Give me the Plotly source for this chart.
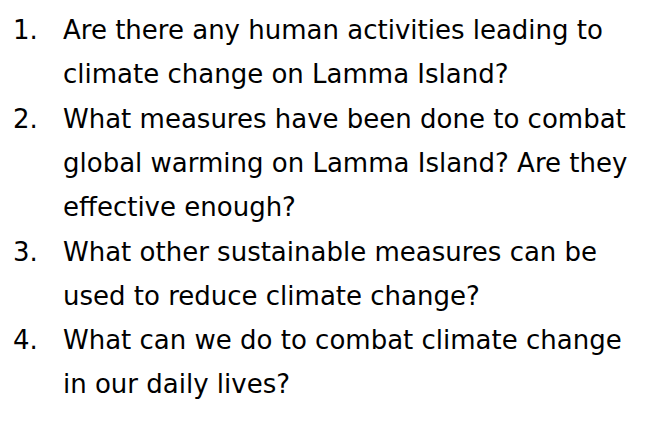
import plotly.graph_objects as go

numbers = ["1.", "", "2.", "", "", "3.", "", "4.", ""]
lines = [
    "Are there any human activities leading to",
    "climate change on Lamma Island?",
    "What measures have been done to combat",
    "global warming on Lamma Island? Are they",
    "effective enough?",
    "What other sustainable measures can be",
    "used to reduce climate change?",
    "What can we do to combat climate change",
    "in our daily lives?",
]

W, H = 647, 428
top, step = 22, 44.3
font = dict(family="Comic Sans MS, DejaVu Sans, sans-serif", size=26, color="black")

fig = go.Figure()
anns = []
for i, (n, t) in enumerate(zip(numbers, lines)):
    y = top + i * step
    if n:
        anns.append(dict(x=3, y=y, text=n, xref="x", yref="y", xanchor="left",
                         yanchor="middle", showarrow=False, font=font))
    anns.append(dict(x=53, y=y, text=t, xref="x", yref="y", xanchor="left",
                     yanchor="middle", showarrow=False, font=font))

fig.update_layout(
    width=W, height=H, margin=dict(l=0, r=0, t=0, b=0),
    paper_bgcolor="white", plot_bgcolor="white",
    xaxis=dict(range=[0, W], visible=False, fixedrange=True),
    yaxis=dict(range=[H, 0], visible=False, fixedrange=True),
    annotations=anns, showlegend=False,
)
fig.write_html("out.html")
